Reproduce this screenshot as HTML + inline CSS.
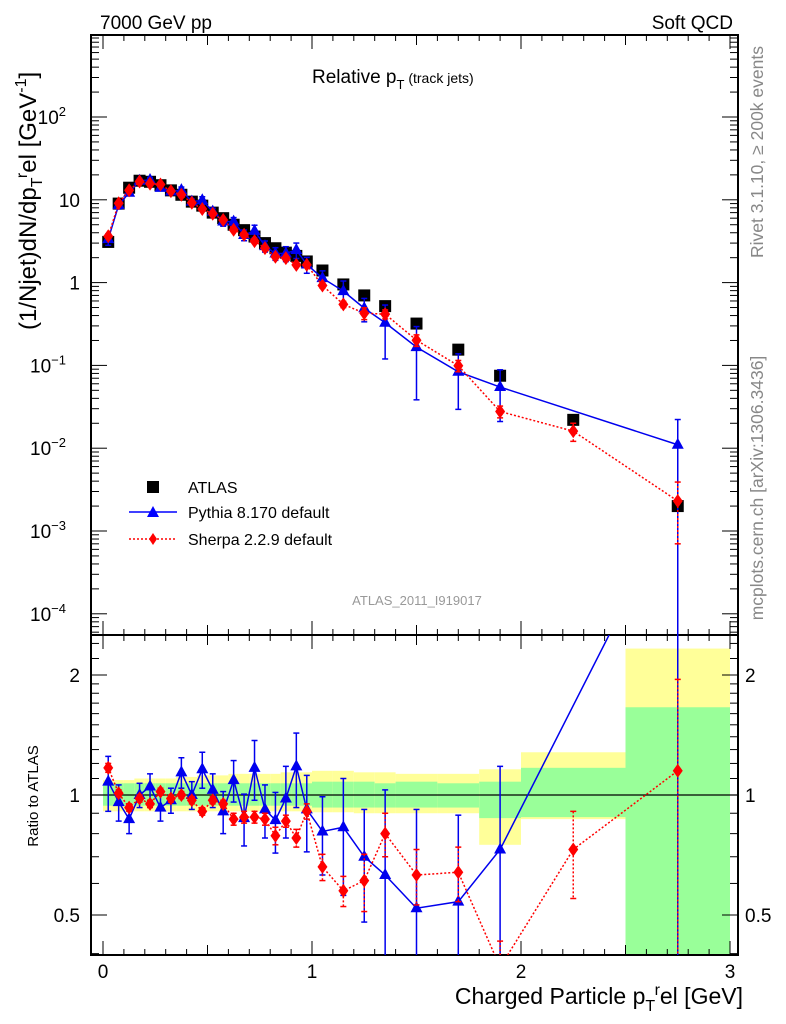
<!DOCTYPE html>
<html><head><meta charset="utf-8"><style>
html,body{margin:0;padding:0;background:#fff;overflow:hidden;width:786px;height:1024px;}
svg{display:block;font-family:"Liberation Sans",Arial,sans-serif;}
</style></head><body>
<svg id="chart" width="786" height="1024" viewBox="0 0 786 1024" xmlns="http://www.w3.org/2000/svg">
<g id="bands"></g>
<g id="axes"></g>
<g id="series"></g>
<text x="100" y="29" font-size="19">7000 GeV pp</text>
<text x="733" y="29" font-size="19" text-anchor="end">Soft QCD</text>
<text x="312" y="83" font-size="19">Relative p<tspan font-size="13" dy="6">T</tspan><tspan font-size="14" dy="-6"> (track jets)</tspan></text>
<text x="417" y="605" font-size="13" fill="#999" text-anchor="middle">ATLAS_2011_I919017</text>
<text transform="translate(763,152) rotate(-90)" font-size="17.5" fill="#888" text-anchor="middle">Rivet 3.1.10, ≥ 200k events</text>
<text transform="translate(763,488) rotate(-90)" font-size="17.5" fill="#888" text-anchor="middle">mcplots.cern.ch [arXiv:1306.3436]</text>
<text transform="translate(36,330) rotate(-90)" font-size="24">(1/Njet)dN/dp<tspan font-size="16" dy="6">T</tspan><tspan font-size="16" dy="-15">r</tspan><tspan dy="9">el [GeV</tspan><tspan font-size="16" dy="-10">-1</tspan><tspan dy="10">]</tspan></text>
<text transform="translate(38,796) rotate(-90)" font-size="15" text-anchor="middle">Ratio to ATLAS</text>
<text x="743" y="1004" font-size="23" text-anchor="end">Charged Particle p<tspan font-size="16" dy="7">T</tspan><tspan font-size="16" dy="-16">r</tspan><tspan dy="9">el [GeV]</tspan></text>
<g>
<rect x="147" y="481" width="12" height="12" fill="#000"/>
<text x="188" y="493" font-size="16">ATLAS</text>
<line x1="129" y1="512" x2="177" y2="512" stroke="#00f" stroke-width="1.5"/>
<polygon points="153,506 159,517 147,517" fill="#00f"/>
<text x="188" y="518" font-size="16">Pythia 8.170 default</text>
<line x1="129" y1="539" x2="177" y2="539" stroke="#f00" stroke-width="1.5" stroke-dasharray="2,2"/>
<polygon points="153,533 157,539 153,545 149,539" fill="#f00"/>
<text x="188" y="545" font-size="16">Sherpa 2.2.9 default</text>
</g>
</svg>
<script>
const binEdges=[0,0.05,0.1,0.15,0.2,0.25,0.3,0.35,0.4,0.45,0.5,0.55,0.6,0.65,0.7,0.75,0.8,0.85,0.9,0.95,1.0,1.1,1.2,1.3,1.4,1.6,1.8,2.0,2.5,3.0];
const atlasValues=[3.1,9,14,17,16.5,15,13,11.5,9.5,8.5,7,6,5,4.3,3.6,3.0,2.6,2.3,2.1,1.8,1.4,0.95,0.7,0.52,0.32,0.155,0.075,0.022,0.002];
const pythiaRatio=[1.08,0.96,0.87,1.0,1.05,0.93,0.97,1.14,1.0,1.16,1.03,0.91,1.09,0.875,1.17,0.92,0.865,0.98,1.18,0.92,0.81,0.83,0.70,0.63,0.52,0.54,0.73,null,5.5];
const pythiaErr=[0.17,0.1,0.07,0.07,0.08,0.07,0.07,0.1,0.08,0.12,0.1,0.11,0.13,0.13,0.2,0.14,0.15,0.2,0.25,0.2,0.18,0.27,0.22,0.4,0.4,0.35,0.45,null,5.6];
const sherpaRatio=[1.17,1.01,0.93,0.98,0.95,1.02,0.98,1.0,0.97,0.91,0.97,0.95,0.87,0.88,0.88,0.87,0.79,0.86,0.78,0.91,0.66,0.575,0.61,0.80,0.63,0.64,0.37,0.73,1.15];
const sherpaErr=[0.03,0.02,0.02,0.02,0.02,0.02,0.02,0.02,0.02,0.02,0.02,0.02,0.03,0.03,0.03,0.03,0.04,0.03,0.04,0.04,0.05,0.05,0.1,0.1,0.1,0.1,0.06,0.18,0.8];
const greenLo=[0.94,0.94,0.94,0.94,0.94,0.94,0.94,0.94,0.94,0.94,0.94,0.94,0.94,0.94,0.94,0.94,0.94,0.94,0.94,0.94,0.93,0.93,0.93,0.93,0.93,0.93,0.875,0.88,0.3];
const greenHi=[1.07,1.07,1.07,1.07,1.07,1.07,1.07,1.07,1.07,1.07,1.07,1.07,1.07,1.07,1.07,1.07,1.07,1.07,1.07,1.07,1.08,1.08,1.08,1.07,1.08,1.07,1.08,1.17,1.66];
const yellowLo=[0.91,0.91,0.91,0.91,0.91,0.91,0.91,0.91,0.91,0.91,0.91,0.91,0.91,0.91,0.91,0.91,0.91,0.91,0.91,0.91,0.905,0.905,0.9,0.9,0.9,0.9,0.75,0.87,0.3];
const yellowHi=[1.09,1.09,1.09,1.1,1.1,1.1,1.1,1.11,1.11,1.12,1.12,1.12,1.13,1.13,1.13,1.13,1.13,1.14,1.14,1.14,1.15,1.15,1.14,1.14,1.13,1.13,1.16,1.28,2.33];
const xTicks=[0,1,2,3];
const mainTicks=[[2,"10","2"],[1,"10",""],[0,"1",""],[-1,"10","−1"],[-2,"10","−2"],[-3,"10","−3"],[-4,"10","−4"]];
const ratioTicks=[[2,"2"],[1,"1"],[0.5,"0.5"]];

const NS="http://www.w3.org/2000/svg";
const L=91,R=738,MT=35,MB=635,RT=635,RB=955;
const X=v=>103+v*209;
const Y=v=>117+(2-Math.log10(v))*82.8;
const YR=r=>795-Math.log2(r)*120;
function mk(parent,tag,attrs){const e=document.createElementNS(NS,tag);for(const k in attrs)e.setAttribute(k,attrs[k]);document.getElementById(parent).appendChild(e);return e;}
const clampR=y=>Math.max(RT,Math.min(RB,y));

for(let i=0;i<atlasValues.length;i++){
 const x1=X(binEdges[i]),x2=X(binEdges[i+1]);
 let e=mk('bands','rect',{x:x1,y:clampR(YR(yellowHi[i])),width:x2-x1,height:clampR(YR(yellowLo[i]))-clampR(YR(yellowHi[i])),fill:'#ffff99'});
 
 
 e=mk('bands','rect',{x:x1,y:clampR(YR(greenHi[i])),width:x2-x1,height:clampR(YR(greenLo[i]))-clampR(YR(greenHi[i])),fill:'#99ff99'});
 
 
}
let f=mk('axes','rect',{x:L,y:MT,width:R-L,height:MB-MT,fill:'none',stroke:'#000','stroke-width':2});


f=mk('axes','rect',{x:L,y:RT,width:R-L,height:RB-RT,fill:'none',stroke:'#000','stroke-width':2});


let ln=mk('axes','line',{x1:L,x2:R,y1:YR(1),y2:YR(1),stroke:'#000','stroke-width':1.2});


for(let t=0;t<=3.001;t+=0.1){
 const x=X(t),maj=Math.abs(t-Math.round(t))<0.01,len=maj?14:(Math.abs(t*2-Math.round(t*2))<0.01?10:6);
 [[MT,1],[MB,-1],[RT,1],[RB,-1]].forEach(([y,d])=>{mk('axes','line',{x1:x,x2:x,y1:y,y2:y+d*len,stroke:'#000','stroke-width':1});});
}
xTicks.forEach(t=>{const e=mk('axes','text',{x:X(t),y:978,'font-size':19,'text-anchor':'middle'});e.textContent=t;
 
 });
for(let d=-5;d<=3;d++){for(let m=1;m<10;m++){const v=m*Math.pow(10,d),y=Y(v);if(y<MT||y>MB)continue;const len=m==1?16:8;
 mk('axes','line',{x1:L,x2:L+len,y1:y,y2:y,stroke:'#000','stroke-width':1});mk('axes','line',{x1:R,x2:R-len,y1:y,y2:y,stroke:'#000','stroke-width':1});}}
mainTicks.forEach(([p,b,s])=>{const e=mk('axes','text',{x:s?66:80,y:Y(Math.pow(10,p))+7,'font-size':19,'text-anchor':'end'});e.textContent=b;
 if(s){const ts=document.createElementNS(NS,'tspan');ts.setAttribute('font-size','13');ts.setAttribute('dy','-8');ts.textContent=s;e.appendChild(ts);}
 
 });
[0.4,0.5,0.6,0.7,0.8,0.9,1,1.1,1.2,1.3,1.4,1.5,1.6,1.7,1.8,1.9,2,2.2,2.4].forEach(v=>{const y=YR(v);if(y<RT||y>RB)return;const len=(v==0.5||v==1||v==2)?16:8;
 mk('axes','line',{x1:L,x2:L+len,y1:y,y2:y,stroke:'#000','stroke-width':1});mk('axes','line',{x1:R,x2:R-len,y1:y,y2:y,stroke:'#000','stroke-width':1});});
ratioTicks.forEach(([v,s])=>{[[80,'end'],[745,'start']].forEach(([x,a])=>{const e=mk('axes','text',{x:x,y:YR(v)+7,'font-size':19,'text-anchor':a});e.textContent=s;
 
 });});

const mid=i=>(binEdges[i]+binEdges[i+1])/2;
const defs=document.createElementNS(NS,'defs');defs.innerHTML='<clipPath id="cm"><rect x="91" y="35" width="647" height="600"/></clipPath><clipPath id="cr"><rect x="91" y="635" width="647" height="320"/></clipPath>';
document.getElementById('chart').insertBefore(defs,document.getElementById('chart').firstChild);
mk('series','g',{'clip-path':'url(#cm)',id:'gm'});
mk('series','g',{'clip-path':'url(#cr)',id:'gr'});

function drawSeries(ratio,err,color,dash,shape,name){
 const ptsM=[],ptsR=[];
 ratio.forEach((r,i)=>{if(r==null)return;ptsM.push([X(mid(i)),Y(r*atlasValues[i]),i]);ptsR.push([X(mid(i)),YR(r),i]);});
 [['gm',ptsM],['gr',ptsR]].forEach(([g,pts],k)=>{
  let e=mk(g,'polyline',{points:pts.map(p=>p[0]+','+p[1]).join(' '),fill:'none',stroke:color,'stroke-width':1.5,'stroke-dasharray':dash});
  
  
  pts.forEach(([x,y,i])=>{
   const hi=ratio[i]+err[i],lo=Math.max(ratio[i]-err[i],1e-6);
   const yh=k?YR(hi):Y(hi*atlasValues[i]),yl=k?YR(lo):Y(lo*atlasValues[i]);
   e=mk(g,'line',{x1:x,x2:x,y1:yh,y2:yl,stroke:color,'stroke-width':1.5,'stroke-dasharray':dash});
   
   
   mk(g,'line',{x1:x-3,x2:x+3,y1:yh,y2:yh,stroke:color,'stroke-width':1.5});
   mk(g,'line',{x1:x-3,x2:x+3,y1:yl,y2:yl,stroke:color,'stroke-width':1.5});
   const p=shape=='tri'?`${x},${y-7} ${x+6},${y+4} ${x-6},${y+4}`:`${x},${y-7} ${x+5},${y} ${x},${y+7} ${x-5},${y}`;
   e=mk(g,'polygon',{points:p,fill:color});
   
   
  });
 });
}
atlasValues.forEach((v,i)=>{const x=X(mid(i)),y=Y(v);
 const e=mk('gm','rect',{x:x-6,y:y-6,width:12,height:12,fill:'#000'});
 
 });
drawSeries(pythiaRatio,pythiaErr,'#0000ee','none','tri','pythia');
drawSeries(sherpaRatio,sherpaErr,'#ff0000','2,2','dia','sherpa');
</script>
</body></html>
